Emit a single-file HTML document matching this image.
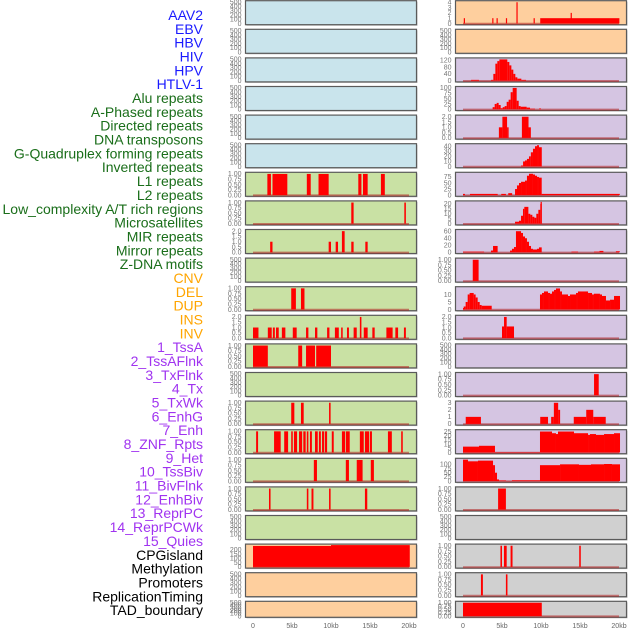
<!DOCTYPE html>
<html><head><meta charset="utf-8"><style>
html,body{margin:0;padding:0;background:#fff;}
svg{display:block;font-family:"Liberation Sans",sans-serif;}
</style></head><body>
<svg id="chart" width="630" height="630" viewBox="0 0 630 630" xmlns="http://www.w3.org/2000/svg"></svg>
<script>
// ---- labels ----
const labelNames = ["AAV2","EBV","HBV","HIV","HPV","HTLV-1","Alu repeats","A-Phased repeats","Directed repeats","DNA transposons","G-Quadruplex forming repeats","Inverted repeats","L1 repeats","L2 repeats","Low_complexity A/T rich regions","Microsatellites","MIR repeats","Mirror repeats","Z-DNA motifs","CNV","DEL","DUP","INS","INV","1_TssA","2_TssAFlnk","3_TxFlnk","4_Tx","5_TxWk","6_EnhG","7_Enh","8_ZNF_Rpts","9_Het","10_TssBiv","11_BivFlnk","12_EnhBiv","13_ReprPC","14_ReprPCWk","15_Quies","CPGisland","Methylation","Promoters","ReplicationTiming","TAD_boundary"];
const labelGroups = [6,13,5,15,5];
const groupColors = ["#1a1aff","#1a6e1a","#ffa500","#a033f0","#000000"];
// ---- x axis ----
const xTicks = [0,5,10,15,20];
const xTickLabels = ["0","5kb","10kb","15kb","20kb"];
// ---- tick sets ----
const T500 = [0,100,200,300,400,500];
const T1 = [0,0.25,0.5,0.75,1];
const T2 = [0,0.5,1,1.5,2];
// ---- left column segments [startKb,endKb,value] ----
const L6 = [[1.84,2.3,1],[2.5,4.4,1],[6.9,7.4,1],[8.4,9.7,1],[13.5,13.9,1],[14.1,14.7,1],[16.4,16.9,1]];
const L7 = [[12.6,12.9,1],[19.4,19.6,1]];
const L8 = [[2.2,2.5,1],[9.7,10.0,1],[10.6,10.9,1],[11.4,11.75,2],[12.6,12.9,1],[14.4,14.7,1]];
const L10 = [[4.9,5.5,1],[6.15,6.6,1]];
const L11 = [[0,0.7,1],[1.9,2.4,1],[2.55,2.8,1],[2.95,3.3,1],[3.7,4.15,1],[5.1,5.6,1],[6.8,7.1,1],[7.95,8.25,1],[9.5,9.8,1],[10.5,11.0,1],[11.3,11.5,1],[12.05,12.3,1],[12.9,13.3,1],[13.7,13.9,2],[14.2,14.7,1],[15.3,15.6,1],[17.1,17.9,1],[18.25,18.6,1],[19.35,19.6,1]];
const L12 = [[0,1.9,1],[5.8,6.3,1],[6.8,7.95,1],[8.1,10.0,1]];
const L14 = [[4.9,5.3,1],[6.15,6.5,1],[9.75,9.95,1]];
const L15 = [[0.4,0.65,1],[2.7,3.55,1],[4.0,4.5,1],[4.9,5.1,1],[5.25,5.65,1],[5.9,6.3,1],[6.45,6.75,1],[6.9,7.1,1],[7.3,7.55,1],[7.95,8.3,1],[8.45,8.7,1],[8.85,9.1,1],[9.2,9.5,1],[10.1,10.35,1],[11.4,11.8,1],[11.9,12.4,1],[13.7,14.2,1],[14.35,14.9,1],[15.0,15.25,1],[17.3,17.8,1],[19.0,19.2,1]];
const L16 = [[7.8,8.2,1],[11.9,12.3,1],[13.3,14.05,1],[15.1,15.5,1]];
const L17 = [[2.05,2.25,1],[6.9,7.1,1],[7.5,7.75,1],[9.75,9.95,1],[14.35,14.65,1]];
const L19 = [[0,10,245],[10,20.1,255]];
// ---- right column segments ----
const R0 = [[0.1,0.25,1],[3.75,3.9,1],[4.3,4.45,1],[5.5,5.65,1],[6.85,7.0,4],[9.05,9.2,1],[9.9,20.05,1],[13.8,13.95,2]];
const R2 = [[1.03,2.05,5],[3.59,3.89,5],[3.89,4.15,40],[4.15,4.4,100],[4.4,4.66,115],[4.66,5.68,125],[5.68,5.94,110],[5.94,6.2,90],[6.2,6.45,65],[6.45,6.71,40],[6.71,6.97,20],[6.97,7.48,12],[7.48,8.08,5]];
const R3 = [[3.8,4.06,10],[4.06,4.32,25],[4.32,4.57,30],[4.57,4.83,20],[4.83,5.09,5],[5.09,5.34,10],[5.34,5.6,15],[5.6,5.85,35],[5.85,6.11,45],[6.11,6.37,80],[6.37,6.88,100],[6.88,7.14,40],[7.14,7.39,15],[7.39,8.16,12],[8.16,8.59,8],[8.59,9.23,3],[9.8,9.95,5]];
const R4 = [[4.6,5.05,1],[5.05,5.65,2],[5.65,5.85,1],[7.55,8.4,2],[8.4,8.7,1]];
const R5 = [[7.44,7.7,2],[7.7,7.95,10],[7.95,8.2,12],[8.2,8.46,15],[8.46,8.7,20],[8.7,8.97,28],[8.97,9.23,35],[9.23,9.49,40],[9.49,9.74,42],[9.74,10.1,38]];
const R6 = [[0,0.25,5],[0.9,4.45,5],[4.9,5.5,5],[5.8,6.3,8],[6.67,6.92,25],[6.92,7.18,40],[7.18,7.44,50],[7.44,7.95,55],[7.95,8.2,60],[8.2,8.46,80],[8.46,8.97,88],[8.97,9.23,85],[9.23,9.49,80],[9.49,9.74,75],[9.74,10.09,72],[10.09,20.1,5]];
const R7 = [[6.67,7.18,2],[7.18,7.44,3],[7.44,7.69,8],[7.69,7.86,15],[7.86,8.38,17],[8.38,8.63,10],[8.63,8.89,9],[8.89,9.15,7],[9.15,9.4,6],[9.4,9.66,10],[9.66,9.91,14],[9.91,10.09,20],[9.95,10.02,22]];
const R8 = [[0,2.7,2],[3.59,3.85,5],[3.85,4.44,18],[6.03,6.28,5],[6.28,6.54,10],[6.54,6.79,15],[6.79,7.44,60],[7.44,7.69,55],[7.69,7.95,45],[7.95,8.2,40],[8.2,8.46,30],[8.46,8.72,18],[8.72,8.97,10],[8.97,9.49,8],[9.49,9.74,10],[9.74,10.09,14],[13.9,14.75,2],[16.8,17.5,2],[17.5,18.0,4],[19.6,20.1,3]];
const R9 = [[1.25,2.0,1]];
const R10 = [[0,0.09,1],[0.09,0.34,2],[0.34,0.6,5],[0.6,0.85,10],[0.85,1.37,11],[1.37,1.62,10],[1.62,1.88,8],[1.88,2.14,5],[2.14,2.39,3],[2.39,3.68,2.5],[9.87,10.13,10],[10.13,10.38,11],[10.38,10.9,12],[10.9,11.15,11],[11.15,11.41,10.5],[11.41,11.67,12],[11.67,11.92,13],[11.92,12.44,14],[12.44,12.69,12],[12.69,13.46,10],[13.46,13.72,9],[13.72,14.49,10],[14.49,14.74,11],[14.74,16.03,12],[16.03,16.54,11],[16.54,16.79,10],[16.79,17.56,10.5],[17.56,17.82,10],[17.82,18.33,9],[18.33,18.85,6],[18.85,19.36,6.5],[19.36,20.13,9]];
const R11 = [[5.0,5.26,1.1],[5.26,5.6,2],[5.6,6.54,1.1]];
const R13 = [[16.8,17.4,1]];
const R14 = [[0.35,2.3,1],[9.9,10.9,1],[11.3,11.65,1],[11.65,12.2,3],[12.2,12.45,2],[14.2,15.8,1],[15.8,16.7,2],[16.7,18.3,1]];
const R15 = [[0,2.05,7],[2.05,4.1,8],[4.1,9.87,0.5],[9.87,11.41,25],[11.41,11.92,23],[11.92,12.18,22],[12.18,14.23,25],[14.23,16.03,23],[16.03,16.28,21],[16.28,17.05,22],[17.05,18.08,21],[18.08,19.36,22],[19.36,20.13,23]];
const R16 = [[0,0.64,128],[0.64,1.92,118],[1.92,3.85,122],[3.85,4.1,95],[4.1,4.36,50],[4.36,4.62,10],[4.62,5.51,4],[5.51,6.28,1],[6.28,9.87,5],[9.87,12.44,95],[12.44,14.87,100],[14.87,16.41,97],[16.41,18.08,100],[18.08,19.1,102],[19.1,20.13,100]];
const R17 = [[4.5,5.5,1]];
const R19 = [[4.8,5.0,1],[5.25,5.6,1],[6.1,6.35,1],[14.9,15.1,1]];
const R20 = [[2.3,2.55,1],[5.5,5.7,1]];
const R21 = [[0,10.1,1]];
// ---- panels per row: [segments, ticks, ymax] ----
const leftPanels = [[null,T500,510],[null,T500,510],[null,T500,510],[null,T500,510],[null,T500,510],[null,T500,510],
 [L6,T1,1.03],[L7,T1,1.03],[L8,T2,2.06],[null,T500,510],[L10,T1,1.03],[L11,T2,2.06],[L12,T1,1.03],[null,T500,510],
 [L14,T1,1.03],[L15,T1,1.03],[L16,T1,1.03],[L17,T1,1.03],[null,T500,510],[L19,[0,50,100,150,200],255],[null,T500,510],[null,T500,510]];
const rightPanels = [[R0,[0,1,2,3,4],4.1],[null,T500,510],[R2,[0,40,80,120],128],[R3,[0,25,50,75,100],102],[R4,T2,2.06],
 [R5,[0,10,20,30,40],43],[R6,[0,25,50,75],90],[R7,[0,5,10,15,20],22],[R8,[0,20,40,60],62],[R9,T1,1.03],[R10,[0,5,10],14.5],
 [R11,T2,2.06],[null,T500,510],[R13,T1,1.03],[R14,[0,1,2,3],3.1],[R15,[0,5,10,15,20,25],26],[R16,[0,25,50,75,100],130],
 [R17,T1,1.03],[null,T500,510],[R19,T1,1.03],[R20,T1,1.03],[R21,T1,1.03]];
const leftBg = ["#c9e4ec","#c9e4ec","#c9e4ec","#c9e4ec","#c9e4ec","#c9e4ec","#c9e1a4","#c9e1a4","#c9e1a4","#c9e1a4","#c9e1a4","#c9e1a4","#c9e1a4","#c9e1a4","#c9e1a4","#c9e1a4","#c9e1a4","#c9e1a4","#c9e1a4","#fecf9e","#fecf9e","#fecf9e"];
const rightBg = ["#fecf9e","#fecf9e","#d5c5e2","#d5c5e2","#d5c5e2","#d5c5e2","#d5c5e2","#d5c5e2","#d5c5e2","#d5c5e2","#d5c5e2","#d5c5e2","#d5c5e2","#d5c5e2","#d5c5e2","#d5c5e2","#d5c5e2","#d0d0d0","#d0d0d0","#d0d0d0","#d0d0d0","#d0d0d0"];

const NS = "http://www.w3.org/2000/svg";
const svg = document.getElementById("chart");
function mk(tag, attrs, parent){const e=document.createElementNS(NS,tag);for(const k in attrs)e.setAttribute(k,attrs[k]);(parent||svg).appendChild(e);return e;}

// labels
let li = 0;
labelGroups.forEach((n,g)=>{for(let k=0;k<n;k++){
  const t = mk("text",{x:203,y:20+li*13.84,"text-anchor":"end","font-size":"14",fill:groupColors[g]});
  t.textContent = labelNames[li];
  
  
  li++;}});

function fmt(ticks,v){
  if(ticks===T1) return v.toFixed(2);
  if(ticks===T2) return v.toFixed(1);
  return String(v);
}
function drawPanel(col, row, p, bg){
  const px = col===0?245.5:455.5, pw = 171, x0 = col===0?253:463, kbW = 7.8;
  const top = 0.7 + row*28.6, h = row===21?16:24;
  const bottom = top + h;
  const xs = kb => x0 + kb*kbW;
  const ys = v => bottom - 1.2 - v/p[2]*(h-2.2);
  const g = mk("g",{});
  
  
  mk("rect",{x:px+1,y:top+1,width:pw,height:h,fill:"#bbb"},g);
  mk("rect",{x:px,y:top,width:pw,height:h,fill:bg,stroke:"#5a5a5a","stroke-width":1.2},g);
  // ticks
  p[1].forEach(v=>{
    const t = mk("text",{x:px-4,y:ys(v)+2.3,"text-anchor":"end","font-size":"7",fill:"#777"},g);
    t.textContent = fmt(p[1],v);
    
    
  });
  if(p[0]){
    mk("line",{x1:xs(0),x2:xs(20),y1:ys(0)+0.3,y2:ys(0)+0.3,stroke:"#b02020","stroke-opacity":0.55,"stroke-width":2},g);
    p[0].forEach(s=>{
      const b = mk("rect",{x:xs(s[0]),y:ys(s[2]),width:Math.max(1.2,xs(s[1])-xs(s[0])),height:ys(0)-ys(s[2]),fill:"#ff0000"},g);
      
      
    });
  }
}
leftPanels.forEach((p,i)=>drawPanel(0,i,p,leftBg[i]));
rightPanels.forEach((p,i)=>drawPanel(1,i,p,rightBg[i]));
[253,463].forEach(x0=>{
  xTicks.forEach((v,i)=>{
    const t = mk("text",{x:x0+v*7.8,y:628,"text-anchor":"middle","font-size":"7",fill:"#666"});
    t.textContent = xTickLabels[i];
    
    
  });
});
</script>
</body></html>
